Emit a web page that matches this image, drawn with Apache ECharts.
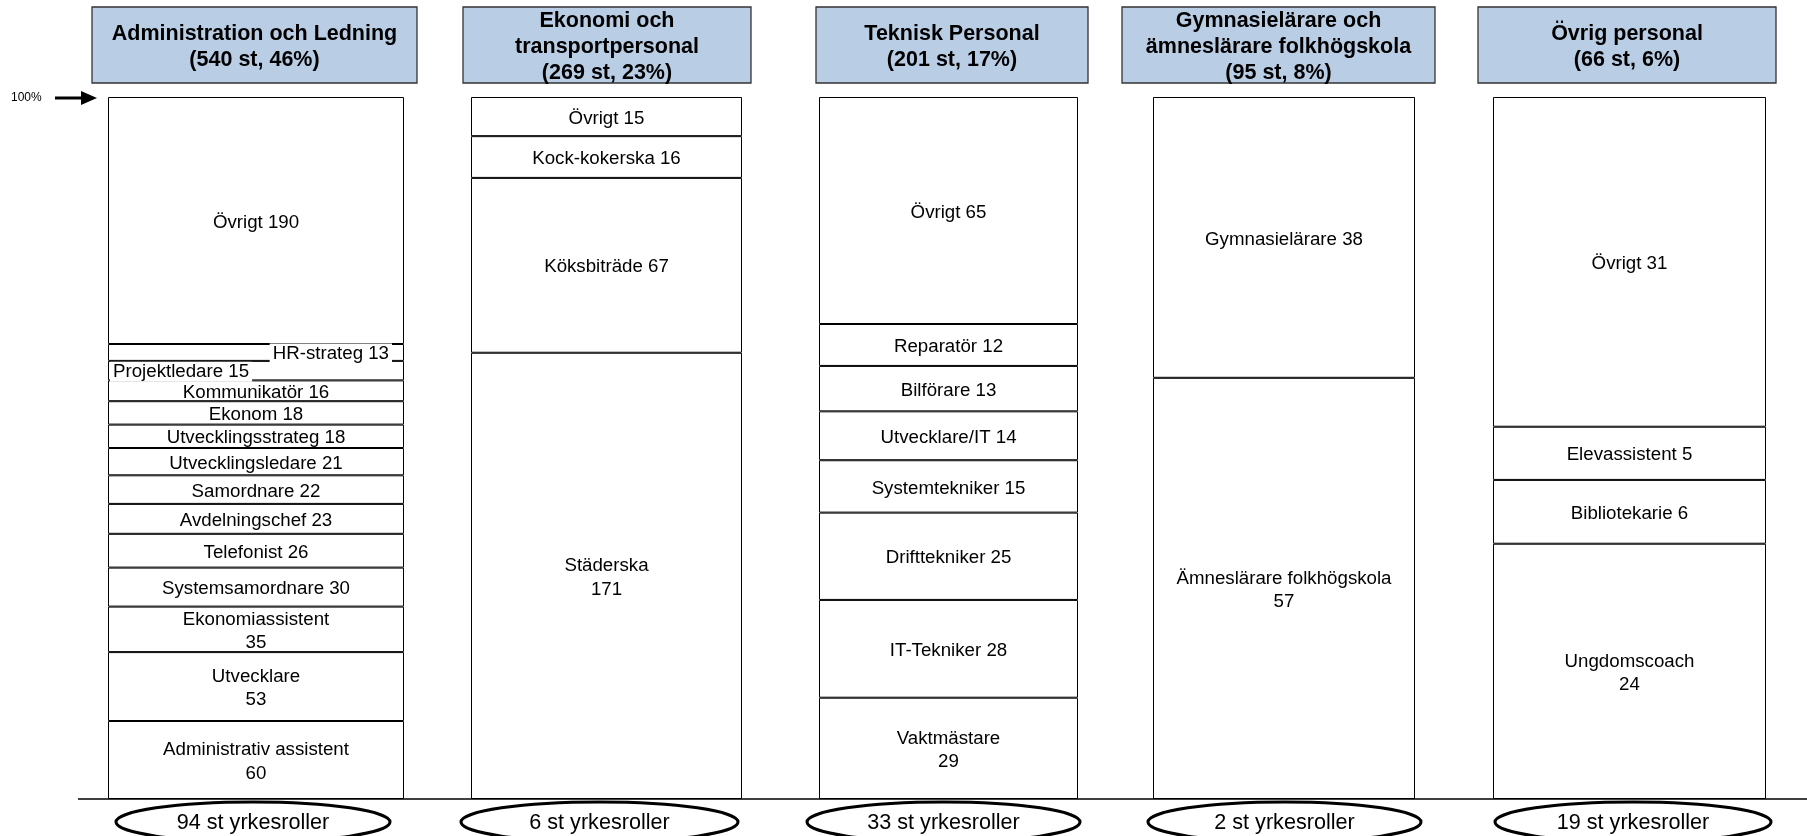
<!DOCTYPE html>
<html><head><meta charset="utf-8">
<script src="https://cdn.jsdelivr.net/npm/echarts@6/dist/echarts.min.js"></script>
<style>html,body{margin:0;padding:0;background:#fff}#c{width:1807px;height:836px}</style>
</head><body><div id="c"></div>
<script>
// ---- DATA (top-to-bottom order as drawn) ----
const groupTitles = ['Administration och Ledning', 'Ekonomi och\ntransportpersonal', 'Teknisk Personal', 'Gymnasielärare och\nämneslärare folkhögskola', 'Övrig personal'];

const adminRoles = ['Övrigt', 'HR-strateg', 'Projektledare', 'Kommunikatör', 'Ekonom', 'Utvecklingsstrateg', 'Utvecklingsledare', 'Samordnare', 'Avdelningschef', 'Telefonist', 'Systemsamordnare', 'Ekonomiassistent', 'Utvecklare', 'Administrativ assistent'];
const adminValues = [190, 13, 15, 16, 18, 18, 21, 22, 23, 26, 30, 35, 53, 60];

const ekonomiRoles = ['Övrigt', 'Kock-kokerska', 'Köksbiträde', 'Städerska'];
const ekonomiValues = [15, 16, 67, 171];

const teknikRoles = ['Övrigt', 'Reparatör', 'Bilförare', 'Utvecklare/IT', 'Systemtekniker', 'Drifttekniker', 'IT-Tekniker', 'Vaktmästare'];
const teknikValues = [65, 12, 13, 14, 15, 25, 28, 29];

const lararRoles = ['Gymnasielärare', 'Ämneslärare folkhögskola'];
const lararValues = [38, 57];

const ovrigRoles = ['Övrigt', 'Elevassistent', 'Bibliotekarie', 'Ungdomscoach'];
const ovrigValues = [31, 5, 6, 24];

const roleCounts = [94, 6, 33, 2, 19];

// Labels where the value goes on a second line
const wrappedRoles = ['Ekonomiassistent', 'Utvecklare', 'Administrativ assistent', 'Städerska', 'Vaktmästare', 'Ämneslärare folkhögskola', 'Ungdomscoach'];

// ---- LAYOUT ----
const groups = [
  {roles: adminRoles, values: adminValues},
  {roles: ekonomiRoles, values: ekonomiValues},
  {roles: teknikRoles, values: teknikValues},
  {roles: lararRoles, values: lararValues},
  {roles: ovrigRoles, values: ovrigValues}
];
const barL = [108, 471, 819, 1153, 1493];
const barR = [404, 742, 1078, 1415, 1766];
const headL = [92, 463, 816, 1122, 1478];
const headR = [417, 751, 1088, 1435, 1776];
const ellCx = [253, 599.5, 943.5, 1284.5, 1633];
const ellRx = [137, 138.5, 136.5, 136.5, 138];
const FONT = "'Liberation Sans', Arial, sans-serif";
const TOP = 97, BOTTOM = 799;

const grandTotal = groups.reduce((s, g) => s + g.values.reduce((a, b) => a + b, 0), 0);

const grid = [], xAxis = [], yAxis = [], series = [], graphic = [];

groups.forEach((g, i) => {
  const total = g.values.reduce((a, b) => a + b, 0);
  grid.push({left: barL[i], width: barR[i] - barL[i], top: TOP, height: BOTTOM - TOP, containLabel: false});
  xAxis.push({type: 'category', gridIndex: i, data: [''], show: false});
  yAxis.push({type: 'value', gridIndex: i, min: 0, max: total, inverse: true, show: false});
  g.roles.forEach((r, j) => {
    const label = {
      show: true, position: 'inside', offset: [0, 2], color: '#000', fontFamily: FONT, fontSize: 18.7, lineHeight: 23.5,
      formatter: wrappedRoles.includes(r) ? '{a}\n{c}' : '{a} {c}'
    };
    if (r === 'HR-strateg') {
      Object.assign(label, {position: 'insideRight', offset: [0, 1], distance: 12, backgroundColor: '#fff', padding: [0, 3], lineHeight: 20});
    }
    if (r === 'Projektledare' && i === 0) {
      Object.assign(label, {position: 'insideLeft', offset: [0, 1], distance: 2, backgroundColor: '#fff', padding: [0, 3], lineHeight: 20});
    }
    series.push({
      type: 'bar', name: r, xAxisIndex: i, yAxisIndex: i, stack: 'col' + i,
      barWidth: '100%', data: [g.values[j]],
      itemStyle: {color: '#fff', borderColor: '#000', borderWidth: 1},
      label: label, emphasis: {disabled: true}, silent: true
    });
  });

  // header box
  const pct = Math.round(total / grandTotal * 100);
  graphic.push({
    type: 'group', children: [
      {type: 'rect', shape: {x: headL[i], y: 7, width: headR[i] - headL[i], height: 76},
       style: {fill: '#b9cde5', stroke: '#333', lineWidth: 1.3}},
      {type: 'text', x: (headL[i] + headR[i]) / 2, y: 47,
       style: {text: groupTitles[i] + '\n(' + total + ' st, ' + pct + '%)', font: 'bold 21.5px ' + FONT,
               fill: '#000', align: 'center', verticalAlign: 'middle', lineHeight: 26}}
    ]
  });
  // ellipse with role count
  graphic.push({
    type: 'group', children: [
      {type: 'ellipse', shape: {cx: ellCx[i], cy: 822, rx: ellRx[i], ry: 20},
       style: {fill: '#fff', stroke: '#000', lineWidth: 3}},
      {type: 'text', x: ellCx[i], y: 823,
       style: {text: roleCounts[i] + ' st yrkesroller', font: '21.6px ' + FONT, fill: '#000', align: 'center', verticalAlign: 'middle'}}
    ]
  });
});

// baseline
graphic.push({type: 'line', shape: {x1: 78, y1: BOTTOM, x2: 1807, y2: BOTTOM}, style: {stroke: '#000', lineWidth: 1.5}, z: 10});
// 100% arrow
graphic.push({type: 'text', x: 11, y: 98, style: {text: '100%', font: '12px ' + FONT, fill: '#000', verticalAlign: 'middle'}});
graphic.push({type: 'line', shape: {x1: 55, y1: 98, x2: 84, y2: 98}, style: {stroke: '#000', lineWidth: 3}});
graphic.push({type: 'polygon', shape: {points: [[81, 91], [97, 98], [81, 105]]}, style: {fill: '#000'}});

const chart = echarts.init(document.getElementById('c'));
chart.setOption({
  animation: false,
  backgroundColor: '#fff',
  grid, xAxis, yAxis, series, graphic
});
</script>
</body></html>
